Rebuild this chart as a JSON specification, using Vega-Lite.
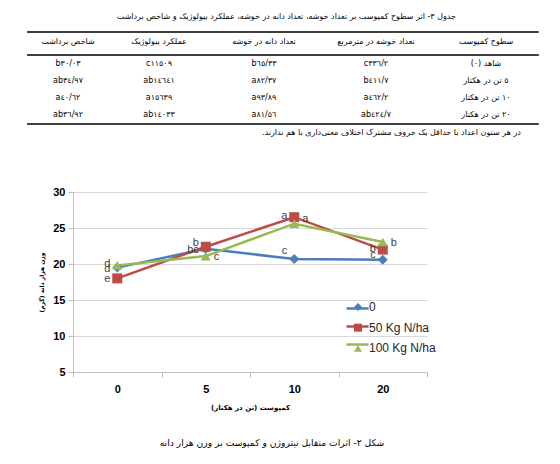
{
  "$schema": "https://vega.github.io/schema/vega-lite/v6.json",
  "padding": {"left": 26, "top": 10, "right": 5, "bottom": 5},
  "bounds": "flush",
  "spacing": 52,
  "config": {"view": {"stroke": null}, "font": "Liberation Sans"},
  "datasets": {
    "table": [
      {"part": "title", "col": 3.2, "row": -1.76, "text": "جدول ٣- اثر سطوح کمپوست بر تعداد خوشه، تعداد دانه در خوشه، عملکرد بیولوژیک و شاخص برداشت"},
      {"part": "cell", "col": 5, "row": -0.29, "text": "سطوح کمپوست"},
      {"part": "cell", "col": 4, "row": -0.29, "text": "تعداد خوشه در مترمربع"},
      {"part": "cell", "col": 3, "row": -0.29, "text": "تعداد دانه در خوشه"},
      {"part": "cell", "col": 2, "row": -0.29, "text": "عملکرد بیولوژیک"},
      {"part": "cell", "col": 1, "row": -0.29, "text": "شاخص برداشت"},
      {"part": "cell", "col": 5, "row": 1, "text": "شاهد (٠)\u200f"},
      {"part": "cell", "col": 4, "row": 1, "text": "c٣٣٦/٢"},
      {"part": "cell", "col": 3, "row": 1, "text": "b٦٥/٣٣"},
      {"part": "cell", "col": 2, "row": 1, "text": "c١١٥٠٩"},
      {"part": "cell", "col": 1, "row": 1, "text": "b٣٠/٠٣"},
      {"part": "cell", "col": 5, "row": 2, "text": "٥ تن در هکتار"},
      {"part": "cell", "col": 4, "row": 2, "text": "b٤١١/٧"},
      {"part": "cell", "col": 3, "row": 2, "text": "a٨٢/٣٧"},
      {"part": "cell", "col": 2, "row": 2, "text": "ab١٤٦٤١"},
      {"part": "cell", "col": 1, "row": 2, "text": "ab٣٤/٩٧"},
      {"part": "cell", "col": 5, "row": 3, "text": "١٠ تن در هکتار"},
      {"part": "cell", "col": 4, "row": 3, "text": "a٤٦٢/٢"},
      {"part": "cell", "col": 3, "row": 3, "text": "a٩٣/٨٩"},
      {"part": "cell", "col": 2, "row": 3, "text": "a١٥٦٣٩"},
      {"part": "cell", "col": 1, "row": 3, "text": "a٤٠/٦٢"},
      {"part": "cell", "col": 5, "row": 4, "text": "٢٠ تن در هکتار"},
      {"part": "cell", "col": 4, "row": 4, "text": "ab٤٢٤/٧"},
      {"part": "cell", "col": 3, "row": 4, "text": "a٨١/٥٦"},
      {"part": "cell", "col": 2, "row": 4, "text": "ab١٤٠٣٣"},
      {"part": "cell", "col": 1, "row": 4, "text": "ab٣٦/٩٢"},
      {"part": "note", "col": 4.14, "row": 5.06, "text": ".در هر ستون اعداد با حداقل یک حروف مشترک اختلاف معنی‌داری با هم ندارند"}
    ],
    "rules": [
      {"row": -0.88, "col": 0.55, "to": 5.48},
      {"row": 0.47, "col": 0.55, "to": 5.48},
      {"row": 4.53, "col": 0.55, "to": 5.48}
    ],
    "grain": [
      {"series": "0", "compost": "0", "value": 19.5},
      {"series": "0", "compost": "5", "value": 22.1},
      {"series": "0", "compost": "10", "value": 20.7},
      {"series": "0", "compost": "20", "value": 20.6},
      {"series": "50 Kg N/ha", "compost": "0", "value": 18.0},
      {"series": "50 Kg N/ha", "compost": "5", "value": 22.4},
      {"series": "50 Kg N/ha", "compost": "10", "value": 26.5},
      {"series": "50 Kg N/ha", "compost": "20", "value": 22.0},
      {"series": "100 Kg N/ha", "compost": "0", "value": 19.8},
      {"series": "100 Kg N/ha", "compost": "5", "value": 21.1},
      {"series": "100 Kg N/ha", "compost": "10", "value": 25.6},
      {"series": "100 Kg N/ha", "compost": "20", "value": 23.05}
    ],
    "letters": [
      {"series": "100 Kg N/ha", "compost": "0", "value": 20.0, "letter": "d"},
      {"series": "0", "compost": "0", "value": 19.3, "letter": "d"},
      {"series": "50 Kg N/ha", "compost": "0", "value": 17.9, "letter": "e"},
      {"series": "50 Kg N/ha", "compost": "5", "value": 22.9, "letter": "b"},
      {"series": "0", "compost": "5", "value": 21.9, "letter": "bc"},
      {"series": "100 Kg N/ha", "compost": "5", "value": 21.0, "letter": "c"},
      {"series": "50 Kg N/ha", "compost": "10", "value": 26.7, "letter": "a"},
      {"series": "100 Kg N/ha", "compost": "10", "value": 26.25, "letter": "a"},
      {"series": "0", "compost": "10", "value": 21.8, "letter": "c"},
      {"series": "100 Kg N/ha", "compost": "20", "value": 22.9, "letter": "b"},
      {"series": "50 Kg N/ha", "compost": "20", "value": 22.1, "letter": "b"},
      {"series": "0", "compost": "20", "value": 21.25, "letter": "c"}
    ]
  },
  "vconcat": [
    {
      "width": 354,
      "height": 130,
      "encoding": {
        "x": {"field": "col", "type": "quantitative", "scale": {"domain": [1, 2, 3, 4, 5], "range": [-5, 86, 191, 303, 413]}, "axis": null},
        "y": {"field": "row", "type": "quantitative", "scale": {"domain": [-2.18, 5.47], "reverse": true}, "axis": null}
      },
      "layer": [
        {
          "data": {"name": "rules"},
          "mark": {"type": "rule", "color": "black", "strokeWidth": 1.5},
          "encoding": {"x2": {"field": "to"}}
        },
        {
          "data": {"name": "table"},
          "transform": [{"filter": "datum.part == 'cell'"}],
          "mark": {"type": "text", "font": "DejaVu Sans", "fontSize": 8, "color": "black"},
          "encoding": {"text": {"field": "text"}}
        },
        {
          "data": {"name": "table"},
          "transform": [{"filter": "datum.part == 'title'"}],
          "mark": {"type": "text", "font": "DejaVu Sans", "fontSize": 8, "fontWeight": "normal", "color": "black"},
          "encoding": {"text": {"field": "text"}}
        },
        {
          "data": {"name": "table"},
          "transform": [{"filter": "datum.part == 'note'"}],
          "mark": {"type": "text", "font": "DejaVu Sans", "fontSize": 8, "color": "black"},
          "encoding": {"text": {"field": "text"}}
        }
      ]
    },
    {
      "width": 354,
      "height": 180,
      "title": {"text": "شکل ٢- اثرات متقابل نیتروژن و کمپوست بر  وزن هزار دانه", "orient": "bottom", "font": "DejaVu Sans", "fontSize": 9.2, "fontWeight": "normal", "color": "black", "offset": 29, "dx": 22},
      "encoding": {
        "x": {
          "field": "compost", "type": "ordinal", "sort": ["0", "5", "10", "20"],
          "scale": {"paddingInner": 0, "paddingOuter": 0},
          "axis": {"labelAngle": 0, "tickBand": "extent", "grid": false, "title": "کمپوست (تن در هکتار)", "titleFont": "DejaVu Sans", "titleFontSize": 7, "titleFontWeight": "bold", "titleColor": "black", "titlePadding": 9, "labelFontSize": 11, "labelFontWeight": "bold", "labelColor": "black", "labelPadding": 6, "domainColor": "#bfbfbf", "tickColor": "#bfbfbf", "tickSize": 5}
        },
        "y": {
          "field": "value", "type": "quantitative",
          "scale": {"domain": [5, 30], "nice": false, "zero": false},
          "axis": {"values": [5, 10, 15, 20, 25, 30], "title": "وزن هزار دانه (گرم)", "titleFont": "DejaVu Sans", "titleFontSize": 6, "titleFontWeight": "bold", "titleColor": "black", "titlePadding": 8, "labelFontSize": 11, "labelFontWeight": "bold", "labelColor": "black", "labelPadding": 3, "domainColor": "#bfbfbf", "tickColor": "#bfbfbf", "tickSize": 5, "gridColor": "#d9d9d9"}
        }
      },
      "layer": [
        {
          "data": {"name": "grain"},
          "mark": {"type": "line", "strokeWidth": 2.5},
          "encoding": {
            "stroke": {
              "field": "series", "type": "nominal", "sort": ["0", "50 Kg N/ha", "100 Kg N/ha"],
              "scale": {"range": ["#4A7EBB", "#BE4B48", "#98B954"]},
              "legend": {
                "orient": "none", "legendX": 272, "legendY": 286, "title": null, "padding": 0, "zindex": 0,
                "symbolType": "stroke", "symbolSize": 484, "symbolStrokeWidth": 2.5, "symbolOpacity": 1,
                "rowPadding": -1.3, "labelFontSize": 1, "labelOpacity": 0
              }
            }
          }
        },
        {
          "data": {"name": "grain"},
          "mark": {"type": "point", "filled": true, "size": 100, "opacity": 1},
          "encoding": {
            "color": {
              "field": "series", "type": "nominal",
              "scale": {"domain": ["0", "50 Kg N/ha", "100 Kg N/ha"], "range": ["#4A7EBB", "#BE4B48", "#98B954"]},
              "legend": {
                "orient": "none", "legendX": 279, "legendY": 291, "title": null, "padding": 0, "zindex": 1,
                "symbolSize": 64, "symbolStrokeWidth": 0, "symbolOpacity": 1, "labelOffset": 5, "rowPadding": 8.7,
                "labelFont": "Liberation Sans", "labelFontSize": 12, "labelColor": "#262626"
              }
            },
            "shape": {"field": "series", "type": "nominal", "scale": {"domain": ["0", "50 Kg N/ha", "100 Kg N/ha"], "range": ["diamond", "square", "triangle-up"]}, "legend": null}
          }
        },
        {
          "data": {"name": "letters"},
          "transform": [{"filter": "!(datum.series == '100 Kg N/ha' && datum.compost != '0')"}],
          "mark": {"type": "text", "align": "right", "baseline": "middle", "dx": -7, "fontSize": 11, "color": "#404040"},
          "encoding": {"text": {"field": "letter"}}
        },
        {
          "data": {"name": "letters"},
          "transform": [{"filter": "datum.series == '100 Kg N/ha' && datum.compost != '0'"}],
          "mark": {"type": "text", "align": "left", "baseline": "middle", "dx": 8, "fontSize": 11, "color": "#404040"},
          "encoding": {"text": {"field": "letter"}}
        }
      ]
    }
  ]
}
